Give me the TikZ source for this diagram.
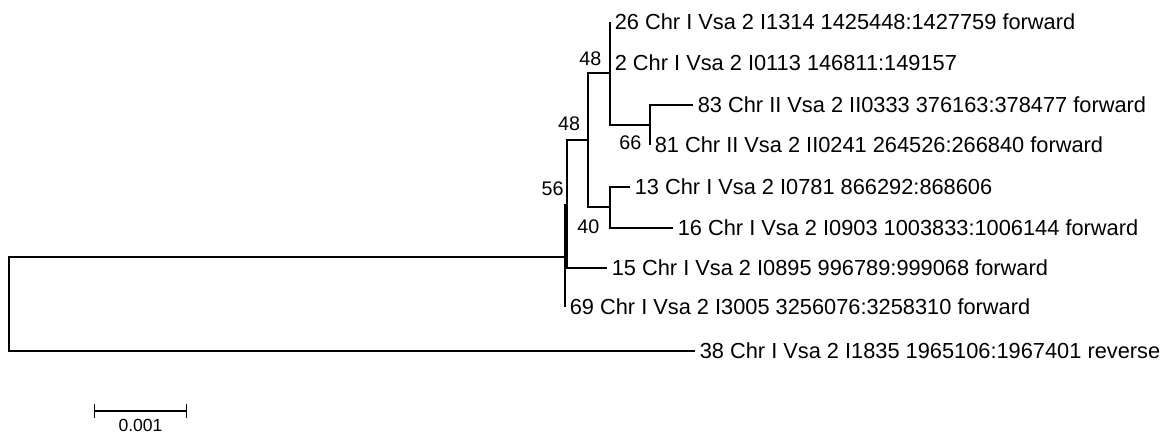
\documentclass[tikz,border=0pt]{standalone}
\usepackage{fontspec}
\setmainfont{Liberation Sans}
\usetikzlibrary{positioning,arrows.meta}

\begin{document}
\begin{tikzpicture}[x=0.025cm, y=-0.025cm, line width=1pt]
\tikzstyle{leaf}=[anchor=west, inner ysep=0pt, inner xsep=0.12cm, outer sep=0pt, font=\fontsize{15.5}{18}\selectfont]
\tikzstyle{boot}=[inner sep=0pt, font=\fontsize{14}{16}\selectfont]
\useasboundingbox (0,0) rectangle (1170,436);
% inner nodes of the tree
\coordinate (root) at (9,304);
\coordinate (nG) at (565,257);
\coordinate (nE) at (567,205);
\coordinate (nC) at (588,140);
\coordinate (nA) at (610,73);
\coordinate (nB) at (650,125);
\coordinate (nD) at (610,207);
% leaves
\node[leaf] (l26) at (610,22) {26 Chr I Vsa 2 I1314 1425448:1427759 forward};
\node[leaf] (l2) at (610,63) {2 Chr I Vsa 2 I0113 146811:149157};
\node[leaf] (l83) at (693,105) {83 Chr II Vsa 2 II0333 376163:378477 forward};
\node[leaf] (l81) at (650,145) {81 Chr II Vsa 2 II0241 264526:266840 forward};
\node[leaf] (l13) at (630,187) {13 Chr I Vsa 2 I0781 866292:868606};
\node[leaf] (l16) at (673,228) {16 Chr I Vsa 2 I0903 1003833:1006144 forward};
\node[leaf] (l15) at (607,268) {15 Chr I Vsa 2 I0895 996789:999068 forward};
\node[leaf] (l69) at (565,307) {69 Chr I Vsa 2 I3005 3256076:3258310 forward};
\node[leaf] (l38) at (695,351) {38 Chr I Vsa 2 I1835 1965106:1967401 reverse};
% branches
\draw (nB) |- (l83.west);
\draw (nB) |- (l81.west);
\draw (nA) |- (l26.west);
\draw (nA) |- (l2.west);
\draw (nA) |- (nB);
\draw (nD) |- (l13.west);
\draw (nD) |- (l16.west);
\draw (nC) |- (nA);
\draw (nC) |- (nD);
\draw (nE) |- (nC);
\draw (nE) |- (l15.west);
\draw (nG) |- (nE);
\draw (nG) |- (l69.west);
\draw (root) |- (nG);
\draw (root) |- (l38.west);
% bootstrap values
\node[boot, above left=0.17cm and 0.2cm of nA] (bA) {48};
\node[boot, below left=0.25cm and 0.2cm of nB] (bB) {66};
\node[boot, above left=0.22cm and 0.18cm of nC] (bC) {48};
\node[boot, below left=0.3cm and 0.25cm of nD] (bD) {40};
\node[boot, above left=0.22cm and 0.07cm of nE] (bE) {56};
% scale bar
\coordinate (s0) at (94,411);
\coordinate (s1) at (187,411);
\draw[{Bar[width=0.35cm]}-{Bar[width=0.35cm]}] (s0) -- (s1) coordinate[midway] (sm);
\node[boot, below=0.2cm of sm, font=\fontsize{12.5}{14}\selectfont] (slab) {0.001};
\end{tikzpicture}
\end{document}
